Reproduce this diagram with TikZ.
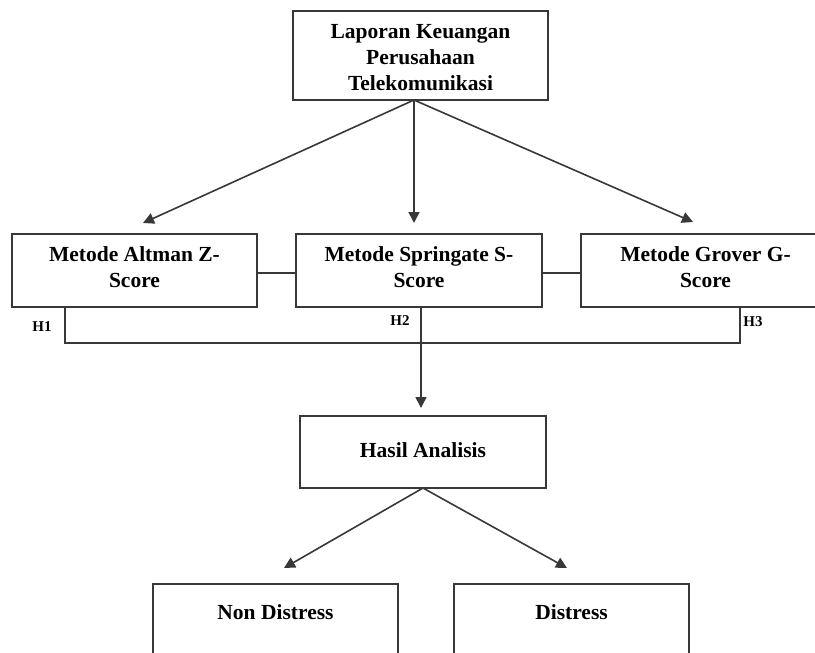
\documentclass[tikz,border=0pt]{standalone}
\usepackage{fontspec}
\setmainfont{Liberation Serif}
\usetikzlibrary{arrows.meta,calc}
\definecolor{ln}{HTML}{383838}
\begin{document}
\begin{tikzpicture}[x=1pt,y=-1pt,
  box/.style={draw=ln,line width=1.6pt,rectangle,inner sep=0pt,minimum height=72pt},
  txt/.style={font=\fontsize{21.5}{26}\selectfont\bfseries,align=center,inner sep=0pt,text=black},
  hl/.style={font=\fontsize{15}{16}\selectfont\bfseries,inner sep=0pt,text=black},
  con/.style={draw=ln,line width=1.6pt},
  arr/.style={con,-{Triangle[length=11pt,width=11pt]}}]
\useasboundingbox (0,0) rectangle (815,653);
\clip (0,0) rectangle (815,653);
% top box
\node[box,minimum width=255pt,minimum height=89pt] (top) at (420.5,55.5) {};
\node[txt] (toptxt) at (420.5,58) {Laporan Keuangan\\Perusahaan\\Telekomunikasi};
% middle boxes
\node[box,minimum width=245pt,minimum height=73pt] (alt) at (134.5,270.5) {};
\node[txt] (alttxt) at (134.5,267) {Metode Altman Z-\\Score};
\node[box,minimum width=246pt,minimum height=73pt] (spr) at (419,270.5) {};
\node[txt] (sprtxt) at (419,267) {Metode Springate S-\\Score};
\node[box,minimum width=249pt,minimum height=73pt] (gro) at (705.5,270.5) {};
\node[txt] (grotxt) at (705.5,267) {Metode Grover G-\\Score};
% hasil
\node[box,minimum width=246pt] (has) at (423,452) {};
\node[txt] (hastxt) at (423,450) {Hasil Analisis};
% bottom boxes
\node[box,minimum width=245pt,anchor=north] (non) at (275.5,583) {};
\node[txt] (nontxt) at (275.5,612) {Non Distress};
\node[box,minimum width=235pt,anchor=north] (dis) at (571.5,583) {};
\node[txt] (distxt) at (571.5,612) {Distress};
% labels
\node[hl] (h1) at (42,327) {H1};
\node[hl] (h2) at (400,321) {H2};
\node[hl] (h3) at (753,322) {H3};
% coordinates
\coordinate (topout) at (414,100);
\coordinate (ta) at (143,223);
\coordinate (ts) at (414,223);
\coordinate (tg) at (693,222);
\coordinate (hasout) at (423,488);
\coordinate (tn) at (284,568);
\coordinate (td) at (567,568);
\coordinate (b1) at (65,343);
\coordinate (b3) at (740,343);
\coordinate (b2) at (421,343);
\coordinate (htip) at (421,408);
\coordinate (mid) at (0,273);
% connectors
\draw[arr] (topout) -- (ta);
\draw[arr] (topout) -- (ts);
\draw[arr] (topout) -- (tg);
\draw[con] (alt.east |- mid) -- (spr.west |- mid);
\draw[con] (spr.east |- mid) -- (gro.west |- mid);
\draw[con] (alt.south -| b1) -- (b1) -- (b3) -- (gro.south -| b3);
\draw[arr] (spr.south -| b2) -- (htip);
\draw[arr] (hasout) -- (tn);
\draw[arr] (hasout) -- (td);
\end{tikzpicture}
\end{document}
